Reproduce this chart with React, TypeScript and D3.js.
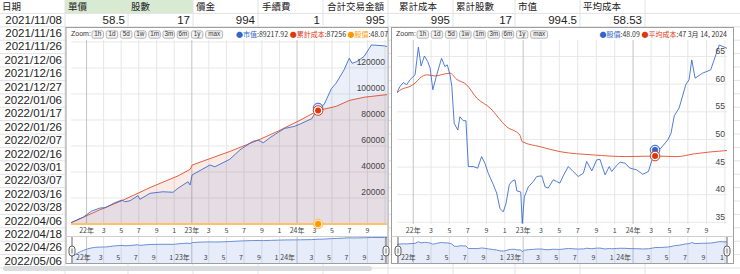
import React from 'react';
import * as d3 from 'd3';

// ---------- spreadsheet content ----------
const headerLabels = ["日期", "單價", "股數", "價金", "手續費", "合計交易金額", "累計成本", "累計股數", "市值", "平均成本"];
const firstRow = ["2021/11/08", "58.5", "17", "994", "1", "995", "995", "17", "994.5", "58.53"];
const rowDates = ["2021/11/16", "2021/11/26", "2021/12/06", "2021/12/16", "2021/12/27", "2022/01/06", "2022/01/17", "2022/01/26", "2022/02/07", "2022/02/16", "2022/03/01", "2022/03/07", "2022/03/16", "2022/03/28", "2022/04/06", "2022/04/18", "2022/04/26", "2022/05/06"];

// ---------- chart data ----------
const priceDates = ["2021-11-08", "2021-11-18", "2021-11-29", "2021-12-10", "2021-12-21", "2022-01-07", "2022-01-18", "2022-01-27", "2022-02-07", "2022-02-18", "2022-02-26", "2022-03-07", "2022-03-20", "2022-04-05", "2022-04-16", "2022-04-24", "2022-05-03", "2022-05-09", "2022-05-17", "2022-05-29", "2022-06-05", "2022-06-16", "2022-06-25", "2022-07-03", "2022-07-19", "2022-08-03", "2022-08-16", "2022-08-27", "2022-09-07", "2022-09-24", "2022-10-05", "2022-10-16", "2022-10-27", "2022-11-05", "2022-11-16", "2022-11-24", "2022-12-05", "2022-12-11", "2022-12-24", "2022-12-29", "2023-01-05", "2023-01-18", "2023-02-04", "2023-02-15", "2023-03-04", "2023-03-15", "2023-03-25", "2023-04-11", "2023-04-22", "2023-05-03", "2023-05-14", "2023-05-31", "2023-06-16", "2023-07-03", "2023-07-20", "2023-07-31", "2023-08-17", "2023-09-02", "2023-09-13", "2023-09-30", "2023-10-14", "2023-10-22", "2023-11-06", "2023-11-19", "2023-12-05", "2023-12-22", "2024-01-13", "2024-02-02", "2024-02-21", "2024-03-14", "2024-04-02", "2024-04-25", "2024-05-06", "2024-05-17", "2024-06-02", "2024-06-24", "2024-07-05", "2024-07-14", "2024-07-25", "2024-08-19", "2024-09-15", "2024-10-13", "2024-11-08"];
const priceValues = [58.5, 59.6, 60.3, 59.9, 60.8, 61.7, 66.7, 63.3, 65.1, 64.1, 62.9, 59.0, 61.7, 64.7, 63.2, 63.5, 61.7, 59.6, 52.9, 51.7, 54.1, 53.4, 53.4, 45.1, 45.1, 44.8, 46.9, 45.7, 43.9, 41.8, 40.3, 37.5, 36.9, 38.4, 41.8, 42.4, 42.7, 40.7, 40.5, 34.8, 39.6, 41.4, 42.4, 43.3, 43.4, 41.4, 41.2, 42.7, 42.4, 42.1, 43.4, 45.1, 44.2, 43.3, 43.9, 46.0, 44.3, 46.3, 46.4, 43.6, 45.1, 44.2, 45.2, 45.9, 45.7, 44.8, 44.5, 43.7, 44.2, 48.09, 48.4, 49.9, 51.1, 54.3, 55.7, 59.9, 60.8, 64.4, 61.1, 62.0, 62.6, 67.1, 66.5];

const avgCostDates = ["2021-11-08", "2021-11-24", "2021-12-21", "2022-01-07", "2022-01-23", "2022-02-15", "2022-03-14", "2022-04-11", "2022-05-03", "2022-05-25", "2022-06-27", "2022-07-31", "2022-09-13", "2022-11-07", "2022-12-21", "2022-12-29", "2023-02-26", "2023-05-03", "2023-08-22", "2023-12-11", "2024-03-14", "2024-05-27", "2024-07-22", "2024-11-08"];
const avgCostValues = [58.5, 59.1, 59.6, 60.2, 61.1, 61.7, 61.5, 61.8, 62.0, 60.9, 59.9, 57.5, 55.7, 52.3, 50.8, 49.6, 48.7, 47.8, 47.2, 46.9, 47.0, 46.9, 47.4, 48.0];

const marketDates = ["2021-11-08", "2021-12-21", "2022-01-18", "2022-02-17", "2022-03-07", "2022-04-05", "2022-05-04", "2022-05-14", "2022-06-01", "2022-06-28", "2022-07-05", "2022-08-09", "2022-09-23", "2022-10-28", "2022-11-14", "2022-12-19", "2022-12-26", "2023-01-02", "2023-03-05", "2023-03-22", "2023-05-13", "2023-06-17", "2023-07-31", "2023-08-19", "2023-09-06", "2023-09-30", "2023-10-28", "2023-11-19", "2023-12-22", "2024-01-13", "2024-02-21", "2024-03-14", "2024-04-04", "2024-04-29", "2024-05-16", "2024-06-12", "2024-06-30", "2024-07-10", "2024-07-28", "2024-08-21", "2024-09-15", "2024-10-30", "2024-11-08"];
const marketValues = [994.5, 5300, 9900, 12300, 12500, 16000, 18500, 17100, 17900, 21800, 19000, 23600, 24800, 24400, 27500, 32500, 30000, 37700, 45400, 44000, 49800, 57000, 63500, 64500, 62500, 66500, 70500, 73500, 75000, 77000, 81000, 89217.92, 92000, 104000, 108500, 118500, 127500, 123600, 125000, 129000, 137700, 137000, 136500];

const cumCostDates = ["2021-11-08", "2022-02-17", "2022-05-04", "2022-08-09", "2022-11-14", "2022-12-26", "2023-01-03", "2023-05-13", "2023-08-19", "2023-10-28", "2024-01-13", "2024-03-14", "2024-05-16", "2024-06-30", "2024-08-21", "2024-11-08"];
const cumCostValues = [995, 11000, 18000, 28000, 37000, 42000, 45400, 55800, 64500, 71500, 80000, 87256, 90500, 95000, 97500, 99500];

const leftYTicks = [20000, 40000, 60000, 80000, 100000, 120000];
const leftGridValues = [0, 20000, 40000, 60000, 80000, 100000, 120000, 140000];
const rightYTicks = [35, 40, 45, 50, 55, 60, 65];
const zoomButtons = ["1h", "1d", "5d", "1w", "1m", "3m", "6m", "1y", "max"];
const markerDate = "2024-03-14";
const domainStart = "2021-11-08";
const domainEnd = "2024-11-08";

// ---------- styling ----------
const CJK = "'Noto Sans CJK TC', 'Noto Sans', sans-serif";
const SANS = "'Liberation Sans', Arial, sans-serif";
const BLUE = "#3366cc";
const RED = "#dc3912";
const ORANGE = "#ff9900";
const ROW_H = 13.4;
const COL_EDGES = [0, 65, 128, 193, 258, 323, 388, 453, 515, 580, 645, 740];
const HEADER_X = [2, 68, 131, 196, 262, 327, 399, 456, 518, 583];

type Pt = { date: Date; value: number };
const parse = d3.timeParse("%Y-%m-%d");
const toPts = (ds: string[], vs: number[]): Pt[] => ds.map((d, i) => ({ date: parse(d) as Date, value: vs[i] }));

function tickLabel(d: Date) {
  const m = d.getMonth();
  if (m === 0) return `${String(d.getFullYear()).slice(2)}年`;
  if (m === 10) return "1";
  return String(m + 1);
}

function Toolbar({ x, y }: { x: number; y: number }) {
  let bx = x + 21;
  return (
    <g fontFamily={SANS} fontSize={7} fill="#333">
      <text x={x} y={y} dominantBaseline="middle">Zoom:</text>
      {zoomButtons.map((b) => {
        const w = b.length > 2 ? 17 : 11.5;
        const el = (
          <g key={b}>
            <rect x={bx} y={y - 3.7} width={w} height={7.4} rx={1.8} fill="#f3f3f3" stroke="#9a9a9a" strokeWidth={0.7} />
            <text x={bx + w / 2} y={y + 0.2} textAnchor="middle" dominantBaseline="middle" fontSize={6.3}>{b}</text>
          </g>
        );
        bx += w + 2.7;
        return el;
      })}
    </g>
  );
}

function Handle({ x }: { x: number }) {
  return (
    <g>
      <line x1={x} x2={x} y1={237} y2={263} stroke="#666" strokeWidth={1} />
      <rect x={x - 3} y={246} width={6} height={10} rx={3} fill="#f4f4f4" stroke="#555" strokeWidth={0.9} />
      <line x1={x} x2={x} y1={248.5} y2={253.5} stroke="#555" strokeWidth={0.8} />
    </g>
  );
}

export default function App() {
  const price = toPts(priceDates, priceValues);
  const avgCost = toPts(avgCostDates, avgCostValues);
  const market = toPts(marketDates, marketValues);
  const cumCost = toPts(cumCostDates, cumCostValues);
  const d0 = parse(domainStart) as Date;
  const d1 = parse(domainEnd) as Date;
  const mDate = (parse(markerDate) as Date).getTime();
  const at = (arr: Pt[]) => arr.find((p) => p.date.getTime() === mDate) as Pt;

  const xL = d3.scaleTime().domain([d0, d1]).range([71, 387]);
  const xR = d3.scaleTime().domain([d0, d1]).range([397, 727]);
  const yL = d3.scaleLinear().domain([0, 141500]).range([224, 40]);
  const yR = d3.scaleLinear().domain([34.7, 68]).range([224, 40]);
  const navL = d3.scaleLog().domain([d3.min(marketValues) as number, d3.max(marketValues) as number]).range([257, 237.5]);
  const navR = d3.scaleLinear().domain([d3.min(priceValues) as number, d3.max(priceValues) as number]).range([251.7, 241.7]);

  const ticks = xL.ticks(d3.timeMonth.every(2) as any) as Date[];
  const cutoff = new Date(2024, 9, 1);
  const axisTicks = ticks.filter((t) => t < cutoff);

  const lineL = d3.line<Pt>().x((p) => xL(p.date)).y((p) => yL(p.value));
  const areaL = d3.area<Pt>().x((p) => xL(p.date)).y0(yL(0)).y1((p) => yL(p.value));
  const lineR = d3.line<Pt>().x((p) => xR(p.date)).y((p) => yR(p.value));
  const lineRs = d3.line<Pt>().x((p) => xR(p.date)).y((p) => yR(p.value)).curve(d3.curveMonotoneX);
  const navLineL = d3.line<Pt>().x((p) => xL(p.date)).y((p) => navL(p.value)).curve(d3.curveMonotoneX);
  const navAreaL = d3.area<Pt>().x((p) => xL(p.date)).y0(263).y1((p) => navL(p.value)).curve(d3.curveMonotoneX);
  const navLineR = d3.line<Pt>().x((p) => xR(p.date)).y((p) => navR(p.value));
  const navAreaR = d3.area<Pt>().x((p) => xR(p.date)).y0(263).y1((p) => navR(p.value));

  const mMarket = at(market), mCost = at(cumCost), mPrice = at(price), mAvg = at(avgCost);

  const renderXGrid = (x: (d: Date) => number, y1: number, y2: number) =>
    ticks.map((t, i) => (
      <line key={i} x1={x(t)} x2={x(t)} y1={y1} y2={y2} stroke={t.getMonth() === 0 ? "#c4c4c4" : "#e6e6e6"} strokeWidth={1} />
    ));
  const renderAxisLabels = (x: (d: Date) => number) =>
    axisTicks.map((t, i) => (
      <text key={i} x={x(t)} y={231} textAnchor="middle" dominantBaseline="middle" fontSize={7} fill="#444" fontFamily={CJK}>{tickLabel(t)}</text>
    ));
  const renderNavLabels = (x: (d: Date) => number, minX: number) =>
    ticks.map((t, i) => {
      const isYear = t.getMonth() === 0;
      let px = isYear ? x(t) - 2 : x(t) - 3;
      let anchor: any = isYear ? "end" : "middle";
      if (isYear && px - 12 < minX) { px = minX; anchor = "start"; }
      return (
        <text key={i} x={px} y={258} textAnchor={anchor} dominantBaseline="middle" fontSize={7} fill="#444" fontFamily={CJK}>{tickLabel(t)}</text>
      );
    });

  return (
    <div style={{ position: 'absolute', left: 0, top: 0 }}>
      <svg width={740} height={274} style={{ display: 'block' }}>
        <defs>
          <clipPath id="clipL"><rect x={71} y={40} width={316} height={185} /></clipPath>
          <clipPath id="clipR"><rect x={397} y={40} width={330} height={185} /></clipPath>
          <clipPath id="panelL"><rect x={66} y={27.5} width={322} height={236} /></clipPath>
        </defs>
        <rect x={0} y={0} width={740} height={274} fill="#fff" />
        {/* spreadsheet */}
        <rect x={COL_EDGES[1]} y={0} width={COL_EDGES[3] - COL_EDGES[1]} height={ROW_H} fill="#d9ead3" />
        {d3.range(1, 21).map((k) => (
          <line key={k} x1={0} x2={740} y1={k * ROW_H} y2={k * ROW_H} stroke="#e2e2e2" strokeWidth={1} />
        ))}
        {COL_EDGES.slice(1, -1).map((e, i) => (
          <line key={i} x1={e} x2={e} y1={0} y2={274} stroke="#e2e2e2" strokeWidth={1} />
        ))}
        {headerLabels.map((h, i) => (
          <text key={i} x={HEADER_X[i]} y={ROW_H / 2 + 0.8} dominantBaseline="middle" fontSize={9.5} fontFamily={CJK} fill="#222">{h}</text>
        ))}
        {firstRow.map((v, i) => (
          <text key={i} x={COL_EDGES[i + 1] - 3} y={ROW_H * 1.5 + 0.5} textAnchor="end" dominantBaseline="middle" fontSize={11.5} fontFamily={SANS} fill="#222">{v}</text>
        ))}
        {rowDates.map((d, i) => (
          <text key={i} x={COL_EDGES[1] - 3} y={ROW_H * (i + 2.5) + 0.5} textAnchor="end" dominantBaseline="middle" fontSize={11.5} fontFamily={SANS} fill="#222">{d}</text>
        ))}
        <rect x={3} y={266} width={369} height={5} rx={2.5} fill="#dadce0" />

        {/* ---------- left panel ---------- */}
        <rect x={66} y={27.5} width={322} height={236} fill="#fff" stroke="#9e9e9e" strokeWidth={1} />
        <g clipPath="url(#panelL)">
          <Toolbar x={71} y={34.5} />
          <text x={236} y={35} dominantBaseline="middle" fontSize={7} fontFamily={CJK} fill="#333">
            <tspan fill={BLUE}>●市值</tspan><tspan>:89217.92 </tspan>
            <tspan fill={RED}>●累計成本</tspan><tspan>:87256 </tspan>
            <tspan fill={ORANGE}>●股價</tspan><tspan>:48.07 |</tspan>
          </text>
        </g>
        {leftGridValues.map((v) => (
          <line key={v} x1={71} x2={387} y1={yL(v)} y2={yL(v)} stroke="#e8e8e8" strokeWidth={1} />
        ))}
        {renderXGrid(xL, 40, 224)}
        <g clipPath="url(#clipL)">
          <path d={areaL(cumCost) as string} fill={RED} fillOpacity={0.1} />
          <path d={areaL(market) as string} fill={BLUE} fillOpacity={0.1} />
          <path d={lineL(price) as string} fill="none" stroke="#ffc266" strokeWidth={2} />
          <path d={lineL(cumCost) as string} fill="none" stroke={RED} strokeWidth={1} strokeOpacity={0.8} />
          <path d={lineL(market) as string} fill="none" stroke={BLUE} strokeWidth={1} strokeOpacity={0.85} />
        </g>
        {leftYTicks.map((v) => (
          <text key={v} x={385} y={yL(v) - 2.5} textAnchor="end" fontSize={8.5} fontFamily={SANS} fill="#444">{v}</text>
        ))}
        {renderAxisLabels(xL)}
        {/* markers */}
        <circle cx={xL(mMarket.date)} cy={yL(mMarket.value)} r={4.8} fill="#dfe7f7" stroke={BLUE} strokeWidth={1} />
        <circle cx={xL(mCost.date)} cy={yL(mCost.value)} r={4.8} fill="#fff" stroke={RED} strokeWidth={1} />
        <circle cx={xL(mCost.date)} cy={yL(mCost.value)} r={3} fill={RED} />
        <circle cx={xL(mPrice.date)} cy={yL(mPrice.value)} r={4.8} fill="#ffe0b3" stroke="#ffc266" strokeWidth={1} />
        <circle cx={xL(mPrice.date)} cy={yL(mPrice.value)} r={3} fill={ORANGE} />
        {/* navigator */}
        <line x1={66} x2={388} y1={236.5} y2={236.5} stroke="#cfcfcf" strokeWidth={1} />
        {renderXGrid(xL, 237, 263)}
        <path d={navAreaL(market) as string} fill={BLUE} fillOpacity={0.12} />
        <path d={navLineL(market) as string} fill="none" stroke="#6c8fd6" strokeWidth={1} />
        {renderNavLabels(xL, 76)}
        <Handle x={72} />
        <Handle x={386} />

        {/* ---------- right panel ---------- */}
        <rect x={391.5} y={27.5} width={342} height={236} fill="#fff" stroke="#9e9e9e" strokeWidth={1} />
        <Toolbar x={396} y={34.5} />
        <text x={727} y={35} textAnchor="end" dominantBaseline="middle" fontSize={7} fontFamily={CJK} fill="#333">
          <tspan fill={BLUE}>●股價</tspan><tspan>:48.09 </tspan>
          <tspan fill={RED}>●平均成本</tspan><tspan>:47 3月 14, 2024</tspan>
        </text>
        {rightYTicks.map((v) => (
          <line key={v} x1={397} x2={727} y1={yR(v)} y2={yR(v)} stroke="#e8e8e8" strokeWidth={1} />
        ))}
        {renderXGrid(xR, 40, 224)}
        <g clipPath="url(#clipR)">
          <path d={lineRs(avgCost) as string} fill="none" stroke={RED} strokeWidth={1} strokeOpacity={0.8} />
          <path d={lineR(price) as string} fill="none" stroke={BLUE} strokeWidth={1} strokeOpacity={0.85} />
        </g>
        {rightYTicks.map((v) => (
          <text key={v} x={725} y={yR(v) - 2.5} textAnchor="end" fontSize={8.5} fontFamily={SANS} fill="#444">{v}</text>
        ))}
        {renderAxisLabels(xR)}
        <circle cx={xR(mPrice.date)} cy={yR(mPrice.value)} r={4.8} fill="#dfe7f7" stroke={BLUE} strokeWidth={1} />
        <circle cx={xR(mPrice.date)} cy={yR(mPrice.value)} r={3} fill={BLUE} />
        <circle cx={xR(mAvg.date)} cy={yR(mAvg.value)} r={4.8} fill="#fff" stroke={RED} strokeWidth={1} />
        <circle cx={xR(mAvg.date)} cy={yR(mAvg.value)} r={3} fill={RED} />
        <line x1={391.5} x2={733.5} y1={236.5} y2={236.5} stroke="#cfcfcf" strokeWidth={1} />
        {renderXGrid(xR, 237, 263)}
        <path d={navAreaR(price) as string} fill={BLUE} fillOpacity={0.12} />
        <path d={navLineR(price) as string} fill="none" stroke="#6c8fd6" strokeWidth={1} />
        {renderNavLabels(xR, 401)}
        <Handle x={398} />
        <Handle x={727} />
      </svg>
    </div>
  );
}
